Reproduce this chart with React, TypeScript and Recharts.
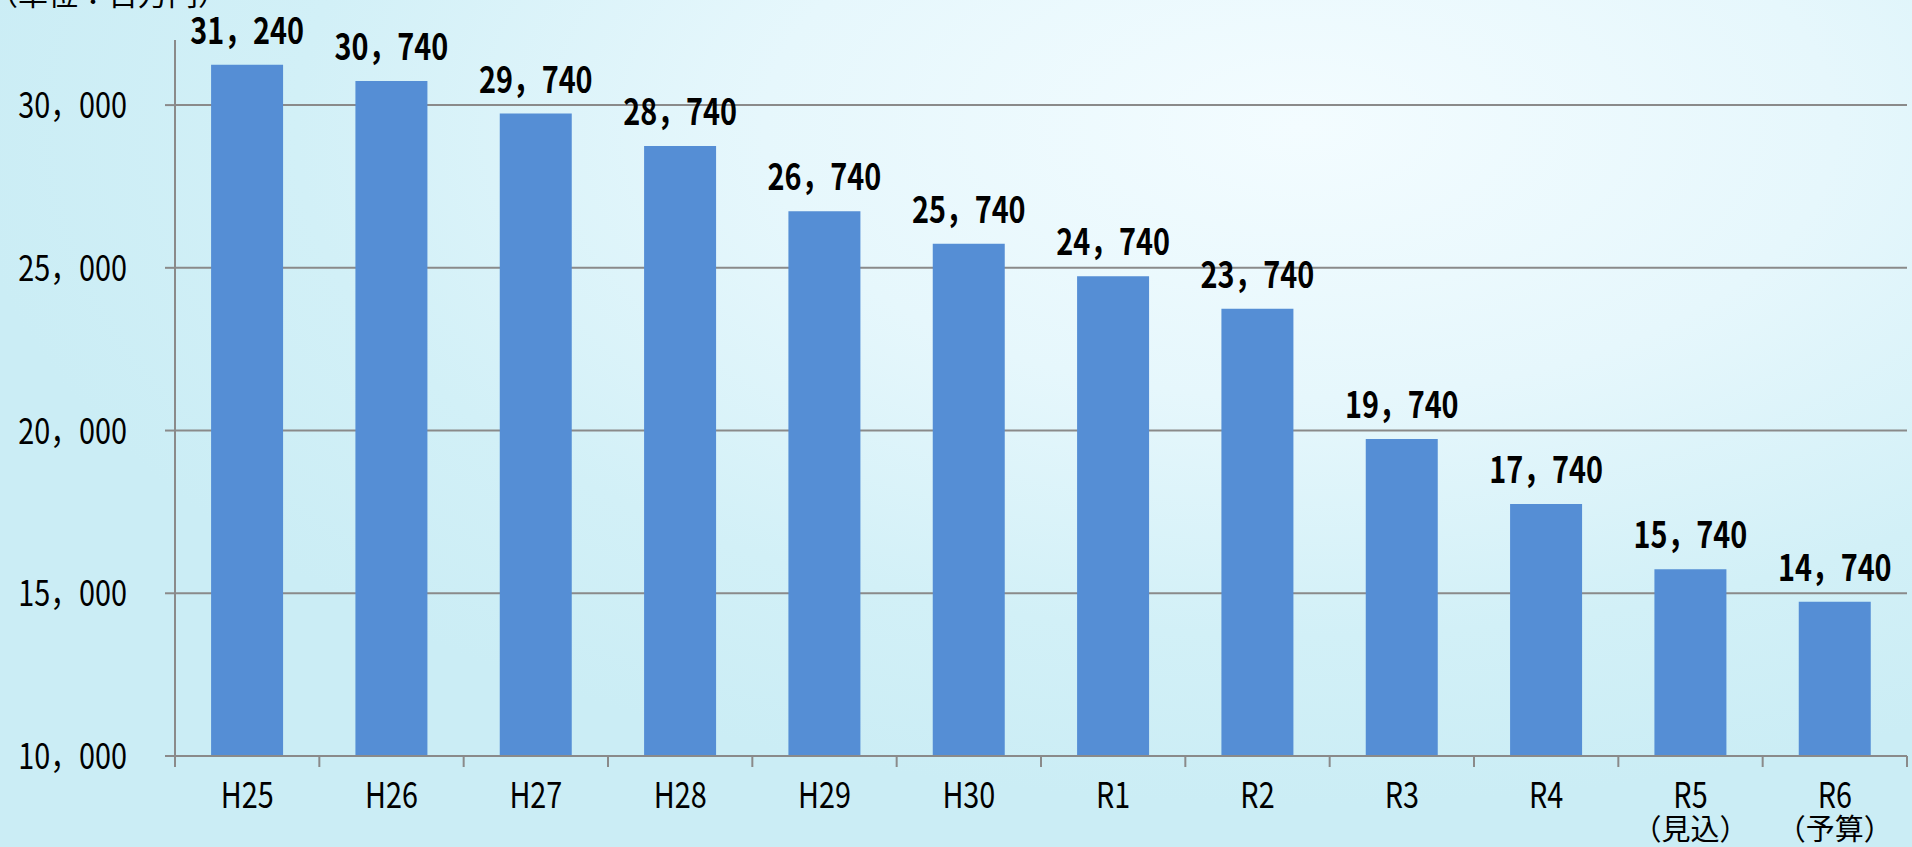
import React from 'react'
import { BarChart, Bar, XAxis, YAxis, CartesianGrid, LabelList } from 'recharts'

const years = ['H25', 'H26', 'H27', 'H28', 'H29', 'H30', 'R1', 'R2', 'R3', 'R4', 'R5', 'R6']
const notes = ['', '', '', '', '', '', '', '', '', '', '（見込）', '（予算）']
const amounts = [31240, 30740, 29740, 28740, 26740, 25740, 24740, 23740, 19740, 17740, 15740, 14740]
const yTicks = [10000, 15000, 20000, 25000, 30000]
const gridValues = [15000, 20000, 25000, 30000]

const data = years.map((y, i) => ({ year: y, note: notes[i], value: amounts[i] }))

const FONT = "'Noto Sans CJK JP', sans-serif"
const AXIS = '#8a8a8a'

// 全角カンマ区切り
const fmt = (v: number) => v.toLocaleString('en-US').replace(/,/g, '，')

function NarrowText({ x, y, anchor = 'middle', size, bold, dy, sx = 0.8, children }: any) {
    return (
        <text
            transform={`translate(${x},${y}) scale(${sx},1)`}
            textAnchor={anchor}
            dy={dy}
            fontSize={size}
            fontWeight={bold ? 700 : 400}
            fontFamily={FONT}
            fill="#000"
        >
            {children}
        </text>
    )
}

function XTick(props: any) {
    const { x, y, payload, index } = props
    const half = payload?.offset ?? 72
    const note = notes[index] || ''
    return (
        <g>
            <line x1={x - half} y1={y} x2={x - half} y2={y + 11} stroke={AXIS} strokeWidth={2} />
            {index === years.length - 1 && (
                <line x1={x + half} y1={y} x2={x + half} y2={y + 11} stroke={AXIS} strokeWidth={2} />
            )}
            <NarrowText x={x} y={y + 52} size={36}>{payload.value}</NarrowText>
            {note && <NarrowText x={x} y={y + 84} size={29} sx={1}>{note}</NarrowText>}
        </g>
    )
}

function YTick(props: any) {
    const { x, y, payload } = props
    return <NarrowText x={x} y={y} anchor="end" dy="0.36em" size={36}>{fmt(payload.value)}</NarrowText>
}

function TopLabel(props: any) {
    const { x, y, width, value } = props
    return <NarrowText x={Number(x) + Number(width) / 2} y={Number(y) - 21} size={36} bold>{fmt(Number(value))}</NarrowText>
}

export default function App() {
    return (
        <div
            style={{
                position: 'absolute',
                top: 0,
                left: 0,
                width: 1912,
                height: 847,
                overflow: 'hidden',
                background: 'radial-gradient(ellipse 70% 80% at 68% 15%, #f3fcff 0%, #e6f7fc 40%, #d2f0f7 75%, #cbedf5 100%)'
            }}
        >
            <div
                style={{
                    position: 'absolute',
                    top: -30,
                    left: -12,
                    fontSize: 30,
                    fontFamily: FONT,
                    color: '#000'
                }}
            >
                （単位：百万円）
            </div>
            <BarChart
                width={1912}
                height={847}
                data={data}
                margin={{ top: 40, right: 5, left: 0, bottom: 0 }}
                barCategoryGap="25%"
            >
                <CartesianGrid vertical={false} horizontalValues={gridValues} stroke={AXIS} strokeWidth={2} />
                <XAxis
                    dataKey="year"
                    height={91}
                    axisLine={{ stroke: AXIS, strokeWidth: 2 }}
                    tickLine={false}
                    tickSize={0}
                    tickMargin={0}
                    interval={0}
                    tick={<XTick />}
                />
                <YAxis
                    width={175}
                    domain={[10000, 32000]}
                    ticks={yTicks}
                    allowDataOverflow
                    axisLine={{ stroke: AXIS, strokeWidth: 2 }}
                    tickLine={{ stroke: AXIS, strokeWidth: 2 }}
                    tickSize={10}
                    tickMargin={38}
                    tick={<YTick />}
                />
                <Bar dataKey="value" fill="#558ed5" isAnimationActive={false}>
                    <LabelList dataKey="value" content={<TopLabel />} />
                </Bar>
            </BarChart>
        </div>
    )
}
